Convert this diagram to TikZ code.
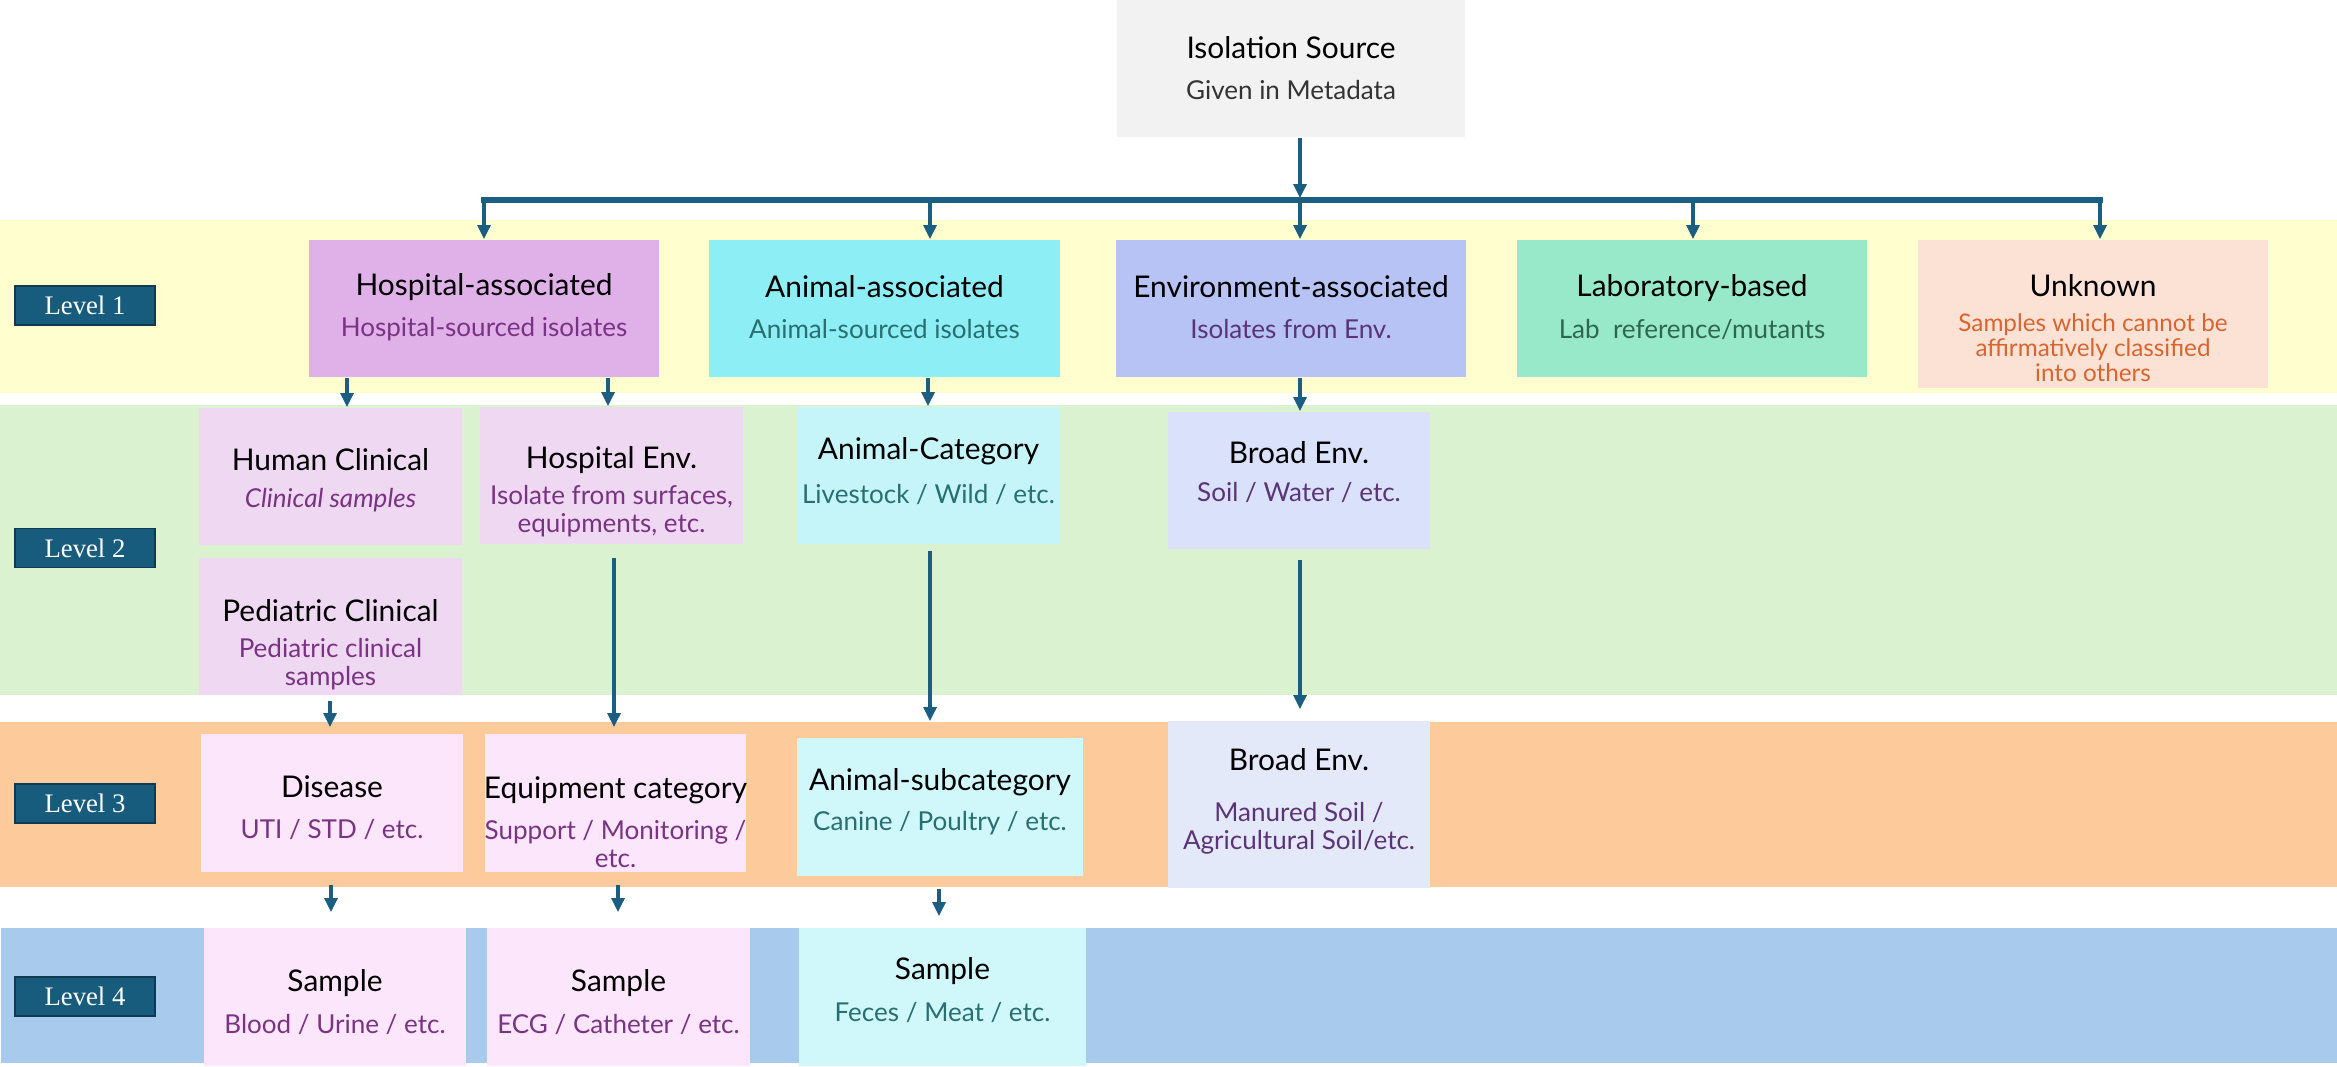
\documentclass[tikz,border=0pt]{standalone}
\usepackage{fontspec}
\setmainfont{Lato}
\newfontfamily\lvlfont{Liberation Serif}
\usetikzlibrary{arrows.meta,calc}
\definecolor{arrc}{HTML}{1B5E82}
\definecolor{srcF}{HTML}{F2F2F2}
\definecolor{bandA}{HTML}{FEFECE}
\definecolor{bandB}{HTML}{DBF2D0}
\definecolor{bandC}{HTML}{FDCB9B}
\definecolor{bandD}{HTML}{A8CAEC}
\definecolor{hospF}{HTML}{E0B0E8}
\definecolor{animF}{HTML}{8DEEF5}
\definecolor{envF}{HTML}{B6C3F4}
\definecolor{labF}{HTML}{97E9CA}
\definecolor{unkF}{HTML}{FBE2D5}
\definecolor{hospFF}{HTML}{EFD8F2}
\definecolor{animFF}{HTML}{C6F5F9}
\definecolor{envFF}{HTML}{DAE1FA}
\definecolor{hospFFF}{HTML}{FCE6FB}
\definecolor{animFFF}{HTML}{D0F7FA}
\definecolor{envFFF}{HTML}{E4E9FA}
\definecolor{subH}{HTML}{7A3384}
\definecolor{subA}{HTML}{276F70}
\definecolor{subE}{HTML}{5B3378}
\definecolor{subL}{HTML}{2E6650}
\definecolor{subU}{HTML}{D8652F}
\definecolor{lvlF}{HTML}{175C7D}
\definecolor{lvlD}{HTML}{0F3A52}
\newcommand\Ttl{\fontsize{8.5}{9.6}\selectfont}
\newcommand\Sbt{\fontsize{7.4}{8}\selectfont}
\newcommand\bxt[3]{{\color{black}\Ttl #1}\\[#2]#3}
\begin{document}
\begin{tikzpicture}[x=0.01cm,y=-0.01cm,
  box/.style={rectangle,inner sep=0pt},
  txt/.style={inner sep=0pt,align=center,font=\Sbt},
  band/.style={rectangle,inner sep=0pt},
  lvl/.style={rectangle,inner sep=0pt,fill=lvlF,draw=lvlD,line width=0.35pt,
    minimum width=1.4cm,minimum height=0.39cm,text=white,font=\lvlfont\fontsize{7.6}{9}\selectfont},
  arr/.style={draw=arrc,line width=1.15pt,-{Triangle[length=4pt,width=3.6pt]}},
  busline/.style={draw=arrc,line width=1.5pt,line cap=rect}]
\useasboundingbox (0,0) rectangle (2337,1066);
\fill[white] (0,0) rectangle (2337,1066);
% bands
\node[band,fill=bandA,minimum width=23.37cm,minimum height=1.73cm] (b1) at (1168.5,306.5) {};
\node[band,fill=bandB,minimum width=23.37cm,minimum height=2.90cm] (b2) at (1168.5,550) {};
\node[band,fill=bandC,minimum width=23.37cm,minimum height=1.65cm] (b3) at (1168.5,804.5) {};
\node[band,fill=bandD,minimum width=23.35cm,minimum height=1.35cm] (b4) at (1169.5,995.5) {};
% top
\node[box,fill=srcF,minimum width=3.48cm,minimum height=1.37cm] (src) at (1291,68.5) {};
\node[txt,text=black!80] (srcT) at (1291,68) {\bxt{Isolation Source}{3.7pt}{Given in Metadata}};
% level 1
\node[box,fill=hospF,minimum width=3.50cm,minimum height=1.37cm] (hosp) at (484,308.5) {};
\node[txt,text=subH] (hospT) at (484,307) {\bxt{Hospital-associated}{3.7pt}{Hospital-sourced isolates}};
\node[box,fill=animF,minimum width=3.51cm,minimum height=1.37cm] (anim) at (884.5,308.5) {};
\node[txt,text=subA] (animT) at (884.5,307) {\bxt{Animal-associated}{3.7pt}{Animal-sourced isolates}};
\node[box,fill=envF,minimum width=3.50cm,minimum height=1.37cm] (env) at (1291,308.5) {};
\node[txt,text=subE] (envT) at (1291,307) {\bxt{Environment-associated}{3.7pt}{Isolates from Env.}};
\node[box,fill=labF,minimum width=3.50cm,minimum height=1.37cm] (lab) at (1692,308.5) {};
\node[txt,text=subL] (labT) at (1692,307) {\bxt{Laboratory-based}{3.7pt}{Lab~ reference/mutants}};
\node[box,fill=unkF,minimum width=3.50cm,minimum height=1.48cm] (unk) at (2093,314) {};
\node[txt,text=subU,font=\fontsize{6.9}{7.1}\selectfont] (unkT) at (2093,328)
  {\bxt{Unknown}{2.9pt}{Samples which cannot be\\affirmatively classified\\into others}};
% level 2
\node[box,fill=hospFF,minimum width=2.63cm,minimum height=1.37cm] (human) at (330.5,476.5) {};
\node[txt,text=subH] (humanT) at (330.5,480) {\bxt{Human Clinical}{2.5pt}{\itshape Clinical samples}};
\node[box,fill=hospFF,minimum width=2.63cm,minimum height=1.37cm] (hospenv) at (611.5,475.5) {};
\node[txt,text=subH] (hospenvT) at (611.5,492) {\bxt{Hospital Env.}{2.2pt}{Isolate from surfaces,\\equipments, etc.}};
\node[box,fill=animFF,minimum width=2.63cm,minimum height=1.37cm] (animcat) at (928.5,475.5) {};
\node[txt,text=subA] (animcatT) at (928.5,471) {\bxt{Animal-Category}{4.5pt}{Livestock / Wild / etc.}};
\node[box,fill=envFF,minimum width=2.62cm,minimum height=1.37cm] (broad2) at (1299,480.5) {};
\node[txt,text=subE] (broad2T) at (1299,472) {\bxt{Broad Env.}{2.8pt}{Soil / Water / etc.}};
\node[box,fill=hospFF,minimum width=2.63cm,minimum height=1.37cm] (ped) at (330.5,626.5) {};
\node[txt,text=subH] (pedT) at (330.5,645) {\bxt{Pediatric Clinical}{2.2pt}{Pediatric clinical\\samples}};
% level 3
\node[box,fill=hospFFF,minimum width=2.62cm,minimum height=1.38cm] (disease) at (332,803) {};
\node[txt,text=subH] (diseaseT) at (332,808) {\bxt{Disease}{3.7pt}{UTI / STD / etc.}};
\node[box,fill=hospFFF,minimum width=2.61cm,minimum height=1.38cm] (equip) at (615.5,803) {};
\node[txt,text=subH] (equipT) at (615.5,822) {\bxt{Equipment category}{3.7pt}{Support / Monitoring /\\etc.}};
\node[box,fill=animFFF,minimum width=2.86cm,minimum height=1.38cm] (animsub) at (940,807) {};
\node[txt,text=subA] (animsubT) at (940,802) {\bxt{Animal-subcategory}{3.4pt}{Canine / Poultry / etc.}};
\node[box,fill=envFFF,minimum width=2.62cm,minimum height=1.67cm] (broad3) at (1299,804.5) {};
\node[txt,text=subE] (broad3T) at (1299,801) {\bxt{Broad Env.}{6.5pt}{Manured Soil /\\Agricultural Soil/etc.}};
% level 4
\node[box,fill=hospFFF,minimum width=2.62cm,minimum height=1.38cm] (s1) at (335,997) {};
\node[txt,text=subH] (s1T) at (335,1002) {\bxt{Sample}{3.7pt}{Blood / Urine / etc.}};
\node[box,fill=hospFFF,minimum width=2.63cm,minimum height=1.38cm] (s2) at (618.5,997) {};
\node[txt,text=subH] (s2T) at (618.5,1002) {\bxt{Sample}{3.7pt}{ECG / Catheter / etc.}};
\node[box,fill=animFFF,minimum width=2.87cm,minimum height=1.38cm] (s3) at (942.5,997) {};
\node[txt,text=subA] (s3T) at (942.5,990) {\bxt{Sample}{3.7pt}{Feces / Meat / etc.}};
% level labels
\node[lvl] (l1) at (85,305.5) {Level 1};
\node[lvl] (l2) at (85,548) {Level 2};
\node[lvl] (l3) at (85,803.5) {Level 3};
\node[lvl] (l4) at (85,996.5) {Level 4};
% bus
\coordinate (jH) at (484,200);
\coordinate (jA) at (930,200);
\coordinate (jE) at (1300,200);
\coordinate (jL) at (1693,200);
\coordinate (jU) at (2100,200);
\draw[busline] (jH) -- (jU);
\draw[arr,shorten >=0.5pt] (src.south -| jE) -- (jE);
\draw[arr] (jH) -- (hosp.north -| jH);
\draw[arr] (jA) -- (anim.north -| jA);
\draw[arr] (jE) -- (env.north -| jE);
\draw[arr] (jL) -- (lab.north -| jL);
\draw[arr] (jU) -- (unk.north -| jU);
% level 1 -> 2
\coordinate (a1) at (347,0);
\coordinate (a2) at (608,0);
\coordinate (a3) at (928,0);
\coordinate (a4) at (1300,0);
\draw[arr] (hosp.south -| a1) -- (human.north -| a1);
\draw[arr] (hosp.south -| a2) -- (hospenv.north -| a2);
\draw[arr] (anim.south -| a3) -- (animcat.north -| a3);
\draw[arr] (env.south -| a4) -- (broad2.north -| a4);
% level 2 -> 3
\coordinate (a5) at (330,0);
\coordinate (a6) at (614,0);
\coordinate (a7) at (930,0);
\coordinate (a8) at (1300,0);
\draw[arr,shorten <=0.05cm,shorten >=0.06cm] (ped.south -| a5) -- (disease.north -| a5);
\draw[arr,shorten <=0.13cm,shorten >=0.06cm] (hospenv.south -| a6) -- (equip.north -| a6);
\draw[arr,shorten <=0.06cm,shorten >=0.16cm] (animcat.south -| a7) -- (animsub.north -| a7);
\draw[arr,shorten <=0.10cm,shorten >=0.11cm] (broad2.south -| a8) -- (broad3.north -| a8);
% level 3 -> 4
\coordinate (a9) at (331,0);
\coordinate (a10) at (618,0);
\coordinate (a11) at (939,0);
\draw[arr,shorten <=0.12cm,shorten >=0.15cm] (disease.south -| a9) -- (s1.north -| a9);
\draw[arr,shorten <=0.12cm,shorten >=0.15cm] (equip.south -| a10) -- (s2.north -| a10);
\draw[arr,shorten <=0.12cm,shorten >=0.11cm] (animsub.south -| a11) -- (s3.north -| a11);
\end{tikzpicture}
\end{document}
